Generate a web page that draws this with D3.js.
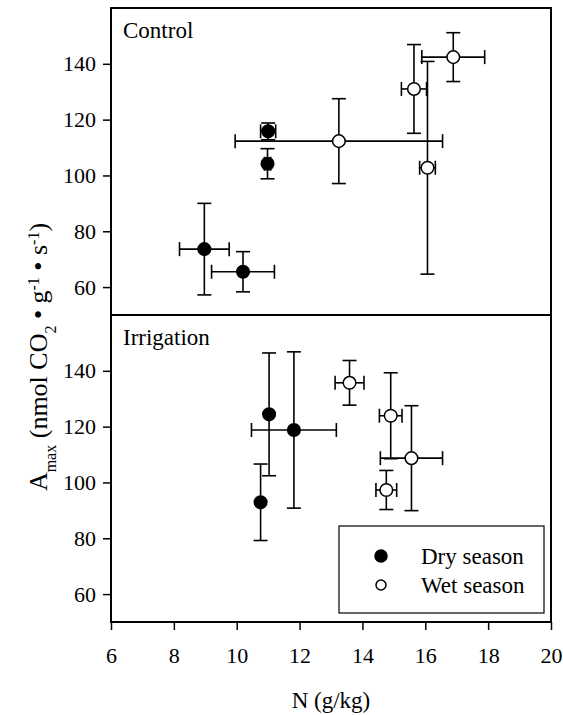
<!DOCTYPE html>
<html>
<head>
<meta charset="utf-8">
<script src="https://cdnjs.cloudflare.com/ajax/libs/d3/7.8.5/d3.min.js"></script>
<style>
  body { margin: 0; background: #fff; }
  svg text { font-family: "Liberation Serif", "Times New Roman", serif; fill: #000; }
</style>
</head>
<body>
<div id="chart"></div>
<script>
// values: N (g/kg) +- err, Amax +- err
const controlDry = [
  {n: 8.97, nErr: 0.79, a: 73.6, aErr: 16.4},
  {n: 10.2, nErr: 1.0, a: 65.5, aErr: 7.2},
  {n: 11.0, nErr: 0.24, a: 115.8, aErr: 3.0},
  {n: 10.98, nErr: 0.1, a: 104.2, aErr: 5.4}
];
const controlWet = [
  {n: 13.25, nErr: 3.3, a: 112.3, aErr: 15.2},
  {n: 15.64, nErr: 0.4, a: 131.0, aErr: 15.9},
  {n: 16.89, nErr: 1.0, a: 142.4, aErr: 8.75},
  {n: 16.07, nErr: 0.25, a: 102.75, aErr: 38.1}
];
const irrigationDry = [
  {n: 10.76, nErr: 0, a: 92.9, aErr: 13.7},
  {n: 11.03, nErr: 0, a: 124.4, aErr: 22.0},
  {n: 11.82, nErr: 1.35, a: 118.8, aErr: 28.0}
];
const irrigationWet = [
  {n: 13.59, nErr: 0.46, a: 135.7, aErr: 8.0},
  {n: 14.9, nErr: 0.36, a: 123.9, aErr: 15.4},
  {n: 15.56, nErr: 0.99, a: 108.7, aErr: 18.8},
  {n: 14.76, nErr: 0.33, a: 97.3, aErr: 7.0}
];
const xTicks = [6, 8, 10, 12, 14, 16, 18, 20];
const yTicks = [60, 80, 100, 120, 140];
const seasons = ['Dry season', 'Wet season'];

const panels = [
  {name: 'Control', dry: controlDry, wet: controlWet},
  {name: 'Irrigation', dry: irrigationDry, wet: irrigationWet}
];

const width = 563, height = 715;
const plotLeft = 111, plotRight = 551, plotTop = 8, panelH = 307;
const serif = '"Liberation Serif", "Times New Roman", serif';

const svg = d3.select('#chart').append('svg')
  .attr('width', width)
  .attr('height', height)
  .attr('font-family', serif);

const x = d3.scaleLinear().domain([6, 20]).range([plotLeft, plotRight]);

panels.forEach((p, i) => {
  const y0 = plotTop + i * panelH;
  const y = d3.scaleLinear().domain([50, 160]).range([y0 + panelH, y0]);
  const g = svg.append('g');

  // y axis
  const yAxis = g.append('g')
    .attr('transform', `translate(${plotLeft},0)`)
    .call(d3.axisLeft(y).tickValues(yTicks).tickSize(8).tickPadding(7));
  yAxis.attr('font-family', serif).attr('font-size', 22);
  yAxis.select('.domain').remove();
  yAxis.selectAll('line').attr('stroke-width', 1.5);

  // error bars
  const all = p.dry.map(d => ({...d, wet: false})).concat(p.wet.map(d => ({...d, wet: true})));
  const eb = g.append('g').attr('stroke', '#000').attr('stroke-width', 1.6);
  all.forEach(d => {
    const cx = x(d.n), cy = y(d.a);
    eb.append('line').attr('x1', cx).attr('x2', cx).attr('y1', y(d.a - d.aErr)).attr('y2', y(d.a + d.aErr));
    [d.a - d.aErr, d.a + d.aErr].forEach(v => {
      eb.append('line').attr('x1', cx - 7).attr('x2', cx + 7).attr('y1', y(v)).attr('y2', y(v));
    });
    if (d.nErr > 0) {
      eb.append('line').attr('y1', cy).attr('y2', cy).attr('x1', x(d.n - d.nErr)).attr('x2', x(d.n + d.nErr));
      [d.n - d.nErr, d.n + d.nErr].forEach(v => {
        eb.append('line').attr('y1', cy - 7).attr('y2', cy + 7).attr('x1', x(v)).attr('x2', x(v));
      });
    }
  });

  // markers
  g.append('g').selectAll('circle')
    .data(all)
    .join('circle')
    .attr('cx', d => x(d.n))
    .attr('cy', d => y(d.a))
    .attr('r', 6.3)
    .attr('fill', d => d.wet ? '#fff' : '#000')
    .attr('stroke', '#000')
    .attr('stroke-width', 1.5);

  // frame
  g.append('rect')
    .attr('x', plotLeft).attr('y', y0)
    .attr('width', plotRight - plotLeft).attr('height', panelH)
    .attr('fill', 'none').attr('stroke', '#000').attr('stroke-width', 2);

  g.append('text')
    .attr('x', plotLeft + 12).attr('y', y0 + 30)
    .style('font-size', '23px')
    .text(p.name);
});

// x axis at the bottom
const xAxis = svg.append('g')
  .attr('transform', `translate(0,${plotTop + 2 * panelH})`)
  .call(d3.axisBottom(x).tickValues(xTicks).tickSize(8).tickPadding(17));
xAxis.attr('font-family', serif).attr('font-size', 22);
xAxis.select('.domain').remove();
xAxis.selectAll('line').attr('stroke-width', 1.5);

svg.append('text')
  .attr('x', (plotLeft + plotRight) / 2)
  .attr('y', 708)
  .attr('text-anchor', 'middle')
  .style('font-size', '23px')
  .text('N (g/kg)');

// y axis title
const yt = svg.append('text')
  .attr('transform', `translate(47,357) rotate(-90)`)
  .attr('text-anchor', 'middle')
  .style('font-size', '26px');
yt.append('tspan').text('A');
yt.append('tspan').attr('baseline-shift', 'sub').style('font-size', '16px').text('max');
yt.append('tspan').text(' (nmol CO');
yt.append('tspan').attr('baseline-shift', 'sub').style('font-size', '16px').text('2');
yt.append('tspan').text(' \u2022 g');
yt.append('tspan').attr('baseline-shift', 'super').style('font-size', '16px').text('-1');
yt.append('tspan').text(' \u2022 s');
yt.append('tspan').attr('baseline-shift', 'super').style('font-size', '16px').text('-1');
yt.append('tspan').text(')');

// legend in the lower panel
const lg = svg.append('g');
lg.append('rect')
  .attr('x', 339).attr('y', 526).attr('width', 205).attr('height', 87)
  .attr('fill', '#fff').attr('stroke', '#000').attr('stroke-width', 1.2);
seasons.forEach((s, i) => {
  const ly = 556 + i * 29;
  lg.append('circle')
    .attr('cx', 381).attr('cy', ly)
    .attr('r', i === 0 ? 6 : 5)
    .attr('fill', i === 0 ? '#000' : '#fff')
    .attr('stroke', '#000').attr('stroke-width', 1.5);
  lg.append('text')
    .attr('x', 421).attr('y', ly + 8)
    .style('font-size', '23px')
    .text(s);
});
</script>
</body>
</html>
